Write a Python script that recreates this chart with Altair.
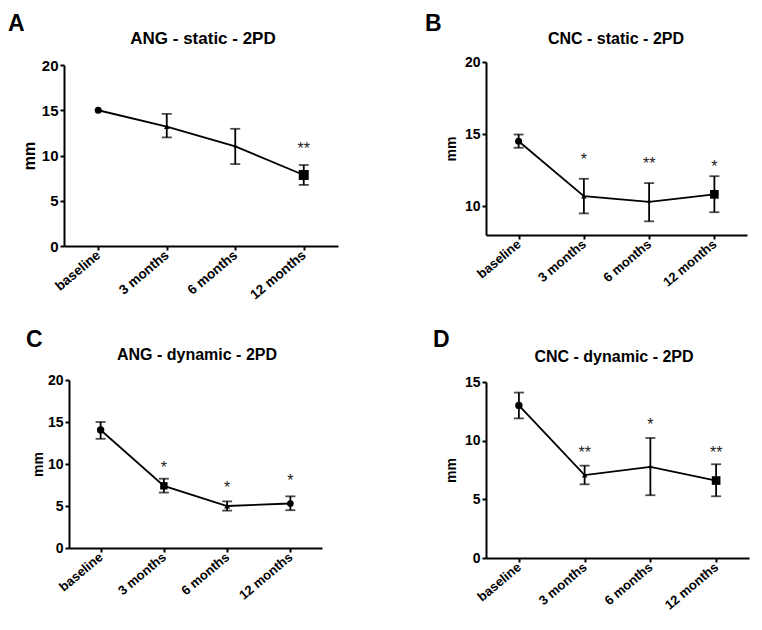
import altair as alt
import pandas as pd

categories = ["baseline", "3 months", "6 months", "12 months"]

# Panel A: ANG - static - 2PD
ang_static_mean = [15.0, 13.2, 11.0, 7.85]
ang_static_low = [None, 12.0, 9.05, 6.75]
ang_static_high = [None, 14.6, 12.95, 8.95]
ang_static_sig = ["", "", "", "**"]
ang_static_sig_y = [None, None, None, 11.2]

# Panel B: CNC - static - 2PD
cnc_static_mean = [14.5, 10.7, 10.3, 10.82]
cnc_static_low = [14.05, 9.5, 8.95, 9.58]
cnc_static_high = [14.97, 11.9, 11.6, 12.08]
cnc_static_sig = ["", "*", "**", "*"]
cnc_static_sig_y = [None, 13.5, 13.2, 12.97]

# Panel C: ANG - dynamic - 2PD
ang_dynamic_mean = [14.05, 7.4, 5.0, 5.3]
ang_dynamic_low = [13.0, 6.6, 4.45, 4.5]
ang_dynamic_high = [15.0, 8.25, 5.55, 6.15]
ang_dynamic_sig = ["", "*", "*", "*"]
ang_dynamic_sig_y = [None, 10.0, 7.6, 8.5]

# Panel D: CNC - dynamic - 2PD
cnc_dynamic_mean = [13.0, 7.07, 7.76, 6.6]
cnc_dynamic_low = [11.9, 6.28, 5.35, 5.26]
cnc_dynamic_high = [14.1, 7.87, 10.23, 7.99]
cnc_dynamic_sig = ["", "**", "*", "**"]
cnc_dynamic_sig_y = [None, 9.3, 11.7, 9.3]

FONT = "Liberation Sans"


def panel(means, lows, highs, sig, sig_y, shapes, sizes, domain, ticks, w, h,
          title, title_size, title_xy, letter, letter_xy,
          label_size=13, ylabel_size=14, ytitle_size=14, ytitle_pad=5,
          yrange=None, xrange=None, yoffset=0):
    df = pd.DataFrame({"cat": categories, "mean": means, "low": lows,
                       "high": highs, "sig": sig, "sig_y": sig_y,
                       "shape": shapes, "size": sizes})
    xs = dict(type="point", domain=categories, padding=0.5)
    if xrange is not None:
        xs["range"] = xrange
    ys = dict(domain=domain, nice=False, zero=False)
    if yrange is not None:
        ys["range"] = yrange
    xaxis = alt.Axis(title=None, labelAngle=-40, labelAlign="right",
                     labelBaseline="middle", labelFontSize=label_size,
                     labelPadding=3, labelOverlap=False)
    yaxis = alt.Axis(title="mm", values=ticks, titleFontSize=ytitle_size,
                     labelFontSize=ylabel_size, titlePadding=ytitle_pad,
                     offset=yoffset, labelPadding=2)
    x = alt.X("cat:O", scale=alt.Scale(**xs), sort=categories, axis=xaxis)

    def Y(field):
        return alt.Y(field, type="quantitative", scale=alt.Scale(**ys), axis=yaxis)

    base = alt.Chart(df).encode(x=x)
    line = base.mark_line(color="black", strokeWidth=1.8).encode(y=Y("mean"))
    rule = base.mark_rule(color="black", strokeWidth=1.8).encode(
        y=Y("low"), y2="high")
    tlow = base.mark_tick(color="black", thickness=1.8, size=10).encode(y=Y("low"))
    thigh = base.mark_tick(color="black", thickness=1.8, size=10).encode(y=Y("high"))
    pts = base.mark_point(filled=True, color="black", opacity=1).encode(
        y=Y("mean"),
        shape=alt.Shape("shape:N", scale=None),
        size=alt.Size("size:Q", scale=None),
    )
    stars = base.transform_filter("datum.sig != ''").mark_text(
        fontSize=16, font=FONT, color="#222", dy=9, baseline="alphabetic"
    ).encode(y=Y("sig_y"), text="sig:N")
    ttl = alt.Chart(pd.DataFrame({"t": [title]})).mark_text(
        font=FONT, fontWeight="bold", fontSize=title_size, align="center",
        baseline="alphabetic", color="black"
    ).encode(text="t:N", x=alt.value(title_xy[0]), y=alt.value(title_xy[1]))
    let = alt.Chart(pd.DataFrame({"t": [letter]})).mark_text(
        font=FONT, fontWeight="bold", fontSize=23, align="left",
        baseline="alphabetic", color="black"
    ).encode(text="t:N", x=alt.value(letter_xy[0]), y=alt.value(letter_xy[1]))
    return alt.layer(line, rule, tlow, thigh, pts, stars, ttl, let).properties(
        width=w, height=h)


pA = panel(ang_static_mean, ang_static_low, ang_static_high, ang_static_sig,
           ang_static_sig_y, ["circle", "triangle-up", "diamond", "square"],
           [50, 30, 20, 100], [0, 20], [0, 5, 10, 15, 20], 274, 184,
           "ANG - static - 2PD", 17, (139, -18), "A", (-56, -31),
           label_size=13.5, ylabel_size=15, ytitle_size=16, ytitle_pad=4,
           yrange=[184, 3])

pB = panel(cnc_static_mean, cnc_static_low, cnc_static_high, cnc_static_sig,
           cnc_static_sig_y, ["circle", "triangle-up", "diamond", "square"],
           [50, 30, 20, 75], [8, 20], [10, 15, 20], 261, 173,
           "CNC - static - 2PD", 16, (130, -18), "B", (-61, -31),
           label_size=13, ylabel_size=14, ytitle_size=14, ytitle_pad=6)

pC = panel(ang_dynamic_mean, ang_dynamic_low, ang_dynamic_high, ang_dynamic_sig,
           ang_dynamic_sig_y, ["circle", "square", "triangle-up", "circle"],
           [55, 55, 35, 45], [0, 20], [0, 5, 10, 15, 20], 258, 168,
           "ANG - dynamic - 2PD", 16, (133, -20), "C", (-38, -33),
           label_size=13, ylabel_size=14, ytitle_size=14, ytitle_pad=2,
           xrange=[5, 258], yoffset=-5)

pD = panel(cnc_dynamic_mean, cnc_dynamic_low, cnc_dynamic_high, cnc_dynamic_sig,
           cnc_dynamic_sig_y, ["circle", "triangle-up", "diamond", "square"],
           [55, 30, 20, 75], [0, 15], [0, 5, 10, 15], 263, 178,
           "CNC - dynamic - 2PD", 16, (128, -18), "D", (-53, -33),
           label_size=13, ylabel_size=14, ytitle_size=14, ytitle_pad=6,
           yrange=[178, 2])

chart = alt.concat(
    pA, pB, pC, pD, columns=2,
    spacing={"row": 134, "column": 148}, bounds="flush", align="each"
).properties(
    padding={"left": 0, "top": 5, "right": 5, "bottom": 5}
).configure_view(stroke=None).configure_axis(
    domainColor="black", domainWidth=2, tickColor="black", tickWidth=2,
    tickSize=4, labelColor="black", labelFont=FONT, labelFontWeight="bold",
    titleFont=FONT, titleFontWeight="bold", titleColor="black", grid=False
)

chart.save("out.html", embed_options={"renderer": "svg", "actions": False})
